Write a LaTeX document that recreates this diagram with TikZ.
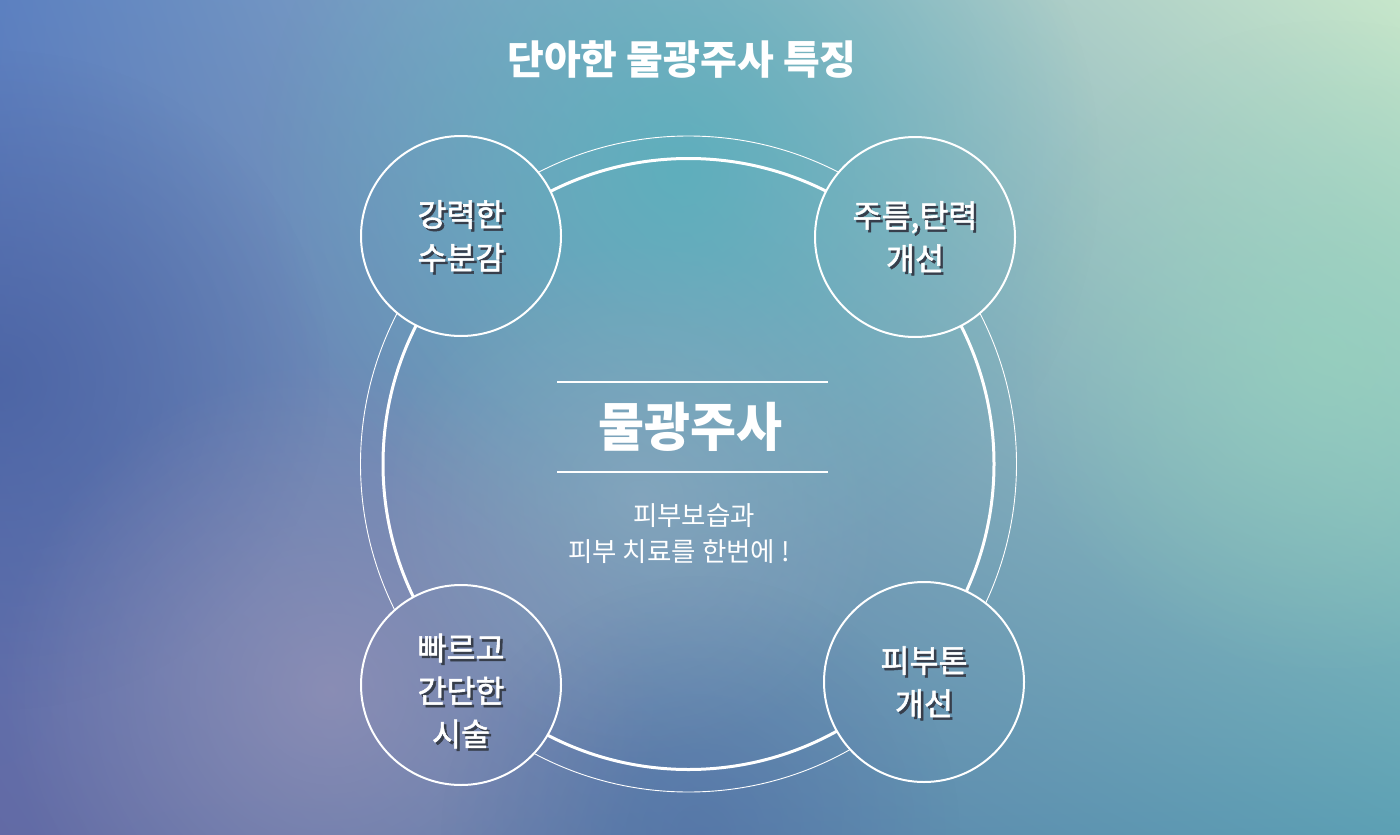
\documentclass[tikz,border=0pt]{standalone}
\usepackage{fontspec}
\newfontfamily\kr{Noto Sans CJK KR}
\newfontfamily\krm[FakeBold=1.6]{Noto Sans CJK KR}
\usetikzlibrary{fadings,shadings,calc}
\definecolor{cUL}{RGB}{92,128,192}
\definecolor{cUR}{RGB}{198,230,202}
\definecolor{cLL}{RGB}{98,106,165}
\definecolor{cLR}{RGB}{92,160,180}
\definecolor{cTeal}{RGB}{88,176,188}
\definecolor{cPurp}{RGB}{158,150,185}
\definecolor{cDark}{RGB}{70,95,160}
\definecolor{cMid}{RGB}{145,172,192}
\definecolor{cMint}{RGB}{150,212,190}
\definecolor{cShadow}{RGB}{55,62,75}
\tikzfading[name=blob, inner color=transparent!0, outer color=transparent!100]
\newcommand\mybg{%
  \shade[upper left=cUL, upper right=cUR, lower left=cLL, lower right=cLR] (0,0) rectangle (1400,835);
  \fill[cTeal, path fading=blob, opacity=0.85] (680,170) circle (420);
  \fill[cDark, path fading=blob, opacity=0.7] (0,380) circle (330);
  \fill[cPurp, path fading=blob, opacity=0.65] (330,690) circle (330);
  \fill[cMid, path fading=blob, opacity=0.6] (640,500) circle (260);
  \fill[cMint, path fading=blob, opacity=0.6] (1330,350) circle (330);
  \fill[cDark, path fading=blob, opacity=0.35] (700,835) circle (260);
}
\tikzset{
  ring/.style={white, line width=3pt},
  thinring/.style={white, line width=0.9pt},
  bubble/.style={circle, draw=white, line width=2pt, minimum size=200pt, inner sep=0pt},
  lbl/.style={text=white, align=center, font=\krm\fontsize{31.5}{43}\selectfont},
  lblsh/.style={text=cShadow, align=center, font=\krm\fontsize{31.5}{43}\selectfont},
  rule/.style={white, line width=1.3pt}
}
\newcommand\shlabel[3]{%
  \node[lblsh] (#1s) at ($(#2)+(2.5,2.5)$) {#3};
  \node[lbl] (#1) at (#2) {#3};
}
\begin{document}
\begin{tikzpicture}[x=1pt,y=-1pt]
\useasboundingbox (0,0) rectangle (1400,835);
\mybg
% rings
\coordinate (O) at (688.5,464);
\draw[ring] (O) circle (305.5);
\draw[thinring] (O) circle (328);
% small circle centers
\coordinate (pTL) at (461,236);
\coordinate (pTR) at (915,237);
\coordinate (pBL) at (461,685);
\coordinate (pBR) at (924,682);
\foreach \p in {pTL,pTR,pBL,pBR}{
  \begin{scope}
    \clip (\p) circle (100);
    \mybg
  \end{scope}
}
\node[bubble] (bTL) at (pTL) {};
\node[bubble] (bTR) at (pTR) {};
\node[bubble] (bBL) at (pBL) {};
\node[bubble] (bBR) at (pBR) {};
\shlabel{tTL}{pTL}{강력한\\수분감}
\shlabel{tTR}{pTR}{주름,탄력\\개선}
\shlabel{tBL}{$(pBL)+(0,6)$}{빠르고\\간단한\\시술}
\shlabel{tBR}{pBR}{피부톤\\개선}
% title
\node[text=white, font=\kr\bfseries\fontsize{40}{44}\selectfont] (title) at (682,60) {단아한 물광주사 특징};
% center
\coordinate (l1a) at (557,382);
\coordinate (l1b) at (828,382);
\coordinate (l2a) at (557,472);
\coordinate (l2b) at (828,472);
\draw[rule] (l1a) -- (l1b);
\draw[rule] (l2a) -- (l2b);
\node[text=white, font=\kr\bfseries\fontsize{50}{54}\selectfont, yscale=1.05] (main) at (690,427) {물광주사};
\node[text=white, font=\kr\fontsize{26.5}{36}\selectfont, align=center] (sub) at (679,534) {\hspace*{30pt}피부보습과\\피부 치료를 한번에 !};
\end{tikzpicture}
\end{document}
